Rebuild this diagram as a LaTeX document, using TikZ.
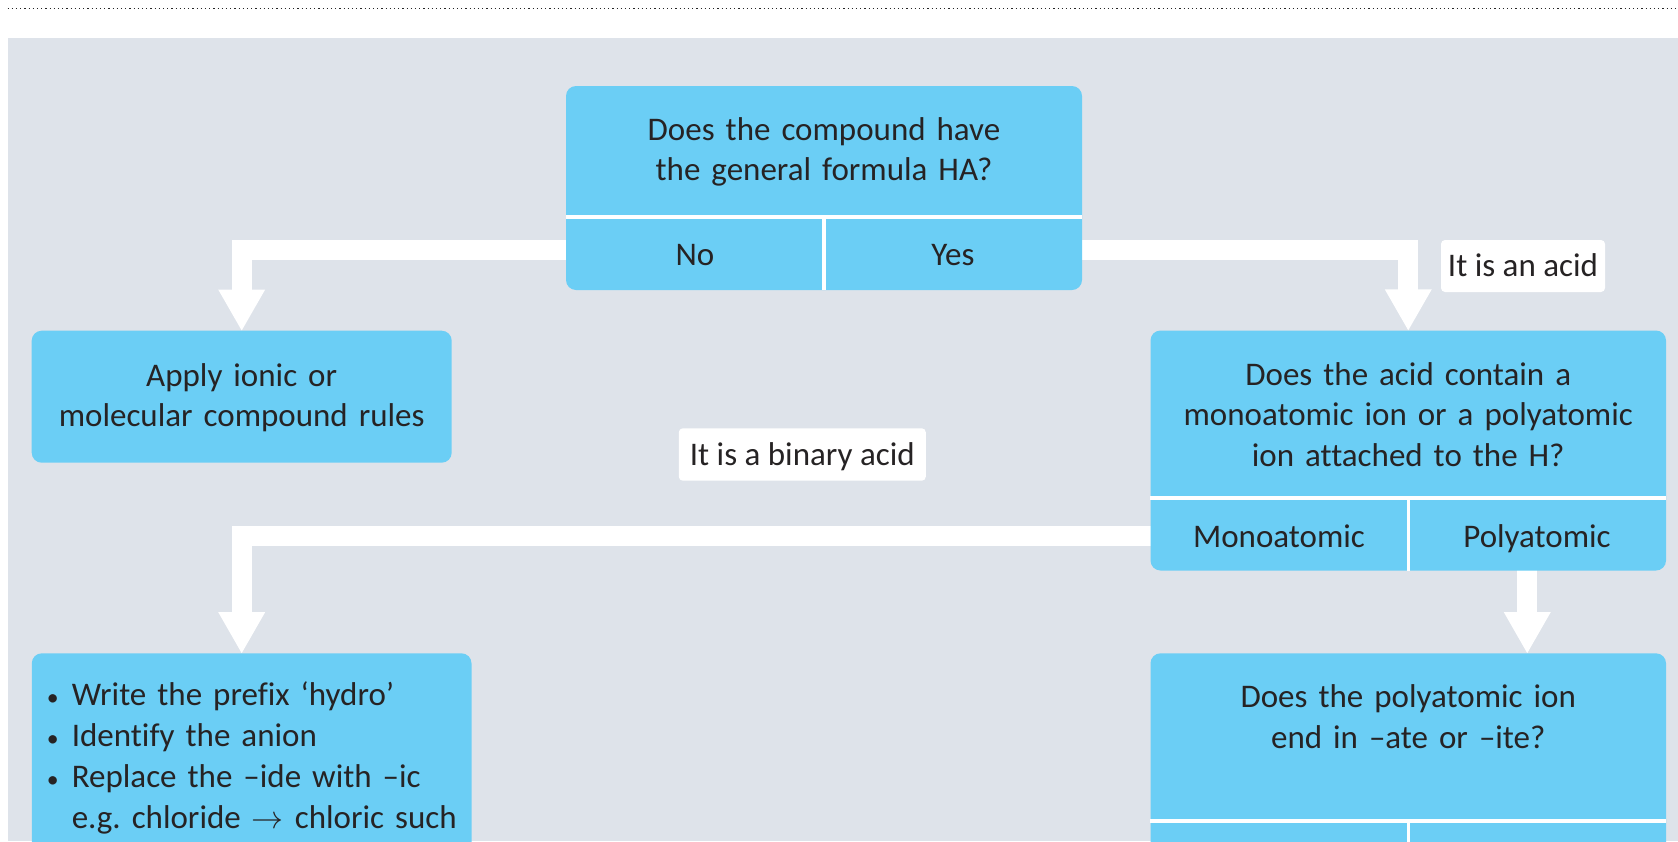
\documentclass[tikz,border=0pt]{standalone}
\usepackage{fontspec}
\setmainfont{Carlito}[Ligatures=NoCommon]
\usetikzlibrary{calc}
\definecolor{bg}{HTML}{DEE3EA}
\definecolor{boxblue}{HTML}{6BCEF5}
\definecolor{ink}{HTML}{262324}
\newcommand\itembul{\makebox[28.6pt][l]{\makebox[19pt]{\scalebox{0.72}{\textbullet}}}}
\newcommand\thinarrow{\resizebox{32pt}{!}{$\rightarrow$}}
\frenchspacing
\begin{document}
\begin{tikzpicture}[x=1pt,y=-1pt,
  box/.style={fill=boxblue, rounded corners=10pt, inner sep=0pt, draw=none},
  lbl/.style={fill=white, rounded corners=4pt, inner sep=0pt, text=ink,
    font=\fontsize{33}{40}\selectfont, text height=21pt, text depth=0pt},
  txt/.style={text=ink, font=\fontsize{33}{40.8}\selectfont, inner sep=0pt},
  sep/.style={draw=white, line width=3.5pt},
  conn/.style={draw=white, line width=20pt},
  head/.style={fill=white, draw=none},
]
\useasboundingbox (0,0) rectangle (1678,841);
\begin{scope}
\clip (0,0) rectangle (1678,841);
% background and rule
\fill[bg] (7.5,37.5) rectangle (1678,841);
\draw[line width=1.3pt, dash pattern=on 1.3pt off 2.9pt, black!85] (7.5,8.6) -- (1678,8.6);

% box shapes (named) -- positioned first so connectors can reference them
\path (824,188) node[minimum width=516pt, minimum height=204pt, inner sep=0pt] (q1) {};
\path (241.7,396.7) node[minimum width=420pt, minimum height=132pt, inner sep=0pt] (apply) {};
\path (1408.25,450.5) node[minimum width=515.5pt, minimum height=240pt, inner sep=0pt] (acidq) {};
\path (251.65,803.3) node[minimum width=439.7pt, minimum height=300pt, inner sep=0pt] (bin) {};
\path (1408.25,803.3) node[minimum width=515.5pt, minimum height=300pt, inner sep=0pt] (polyq) {};

% connectors
\draw[conn] ($(q1.south)+(0,-40)$) -| ($(apply.north)+(0,-40)$);
\fill[head] ($(apply.north)+(-23.5,-41)$) -- ($(apply.north)+(23.5,-41)$) -- (apply.north) -- cycle;
\draw[conn] ($(q1.south)+(0,-40)$) -| ($(acidq.north)+(0,-40)$);
\fill[head] ($(acidq.north)+(-23.5,-41)$) -- ($(acidq.north)+(23.5,-41)$) -- (acidq.north) -- cycle;
\draw[conn] ($(acidq.south)+(0,-35)$) -| ($(apply.south |- bin.north)+(0,-40)$);
\fill[head] ($(apply.south |- bin.north)+(-23.5,-41)$) -- ($(apply.south |- bin.north)+(23.5,-41)$) -- (apply.south |- bin.north) -- cycle;
\draw[conn] ($(acidq.south)+(119,-10)$) -- ($(polyq.north)+(119,-40)$);
\fill[head] ($(polyq.north)+(95.5,-41)$) -- ($(polyq.north)+(142.5,-41)$) -- ($(polyq.north)+(119,0)$) -- cycle;

% boxes
\node[box, minimum width=516pt, minimum height=204pt] at (q1.center) {};
\node[box, minimum width=420pt, minimum height=132pt] at (apply.center) {};
\node[box, minimum width=515.5pt, minimum height=240pt] at (acidq.center) {};
\node[box, minimum width=439.7pt, minimum height=300pt] at (bin.center) {};
\node[box, minimum width=515.5pt, minimum height=300pt] at (polyq.center) {};

% separators
\draw[sep] ($(q1.south west)+(0,-73)$) -- ($(q1.south east)+(0,-73)$);
\draw[sep] ($(q1.south)+(0,-73)$) -- (q1.south);
\draw[sep] ($(acidq.south west)+(0,-72.5)$) -- ($(acidq.south east)+(0,-72.5)$);
\draw[sep] ($(acidq.south)+(0,-72.5)$) -- (acidq.south);
\draw[sep] ($(polyq.north west)+(0,167.7)$) -- ($(polyq.north east)+(0,167.7)$);
\draw[sep] ($(polyq.north)+(0,167.7)$) -- (polyq.south);

% texts
\node[txt, text width=500pt, align=center, anchor=base] (q1t) at (824,140) {Does the compound have\\the general formula HA?};
\node[txt, anchor=base] (no) at (695,265) {No};
\node[txt, anchor=base] (yes) at (953,265) {Yes};
\node[txt, text width=400pt, align=center, anchor=base] (applyt) at (241.7,386) {Apply ionic or\\molecular compound rules};
\node[txt, text width=500pt, align=center, anchor=base] (acidqt) at (1408.25,385) {Does the acid contain a\\monoatomic ion or a polyatomic\\ion attached to the H?};
\node[txt, anchor=base] (mono) at (1279,547.7) {Monoatomic};
\node[txt, anchor=base] (poly) at (1537,547.7) {Polyatomic};
\node[txt, text width=500pt, align=center, anchor=base] (polyqt) at (1408.25,707.3) {Does the polyatomic ion\\end in –ate or –ite?};
\node[txt, text width=440pt, align=left, anchor=base west, font=\fontsize{33}{40.9}\selectfont] (bint) at (43,705.7)
  {\itembul Write the prefix ‘hydro’\\\itembul Identify the anion\\\itembul Replace the –ide with –ic\\\hspace*{28.6pt}e.g. chloride \thinarrow{} chloric such};

% labels
\node[lbl, minimum width=164pt, minimum height=52pt] (acidlbl) at (1523,266) {It is an acid};
\node[lbl, minimum width=247pt, minimum height=52.4pt] (binlbl) at (802.3,454.5) {It is a binary acid};
\end{scope}
\end{tikzpicture}
\end{document}
